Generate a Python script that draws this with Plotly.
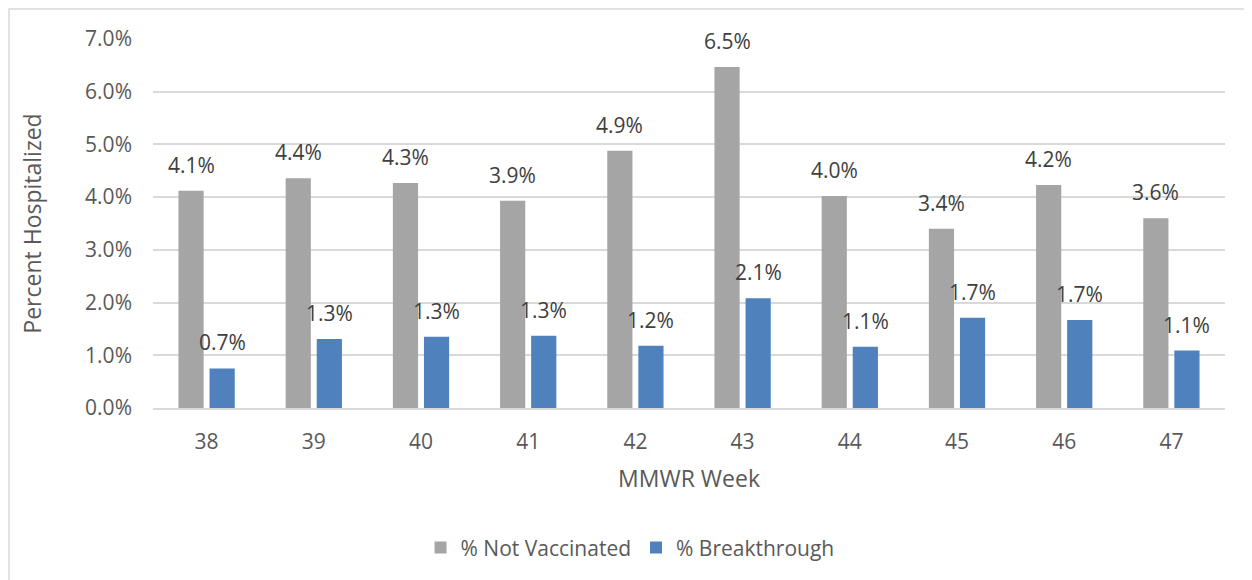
import plotly.graph_objects as go

weeks = [38, 39, 40, 41, 42, 43, 44, 45, 46, 47]
not_vaccinated = [4.12, 4.36, 4.27, 3.93, 4.88, 6.47, 4.02, 3.40, 4.23, 3.60]
breakthrough = [0.75, 1.31, 1.35, 1.37, 1.18, 2.08, 1.16, 1.71, 1.67, 1.09]
not_vacc_labels = ["4.1%", "4.4%", "4.3%", "3.9%", "4.9%", "6.5%", "4.0%", "3.4%", "4.2%", "3.6%"]
break_labels = ["0.7%", "1.3%", "1.3%", "1.3%", "1.2%", "2.1%", "1.1%", "1.7%", "1.7%", "1.1%"]

GRAY = "#A5A5A5"
BLUE = "#4F81BD"
TXT = "#595959"
FONT = "Open Sans"
FS = 21
TFS = 23

fig = go.Figure()
fig.add_trace(go.Bar(x=weeks, y=not_vaccinated, name="% Not Vaccinated",
                     marker=dict(color=GRAY, line=dict(width=0))))
fig.add_trace(go.Bar(x=weeks, y=breakthrough, name="% Breakthrough",
                     marker=dict(color=BLUE, line=dict(width=0))))

annotations = []
for w, v, t in zip(weeks, not_vaccinated, not_vacc_labels):
    annotations.append(dict(x=w, y=v, text=t, xref="x", yref="y", showarrow=False,
                            xshift=-15.5, yshift=10, yanchor="bottom",
                            font=dict(family=FONT, size=FS, color="#404040")))
for w, v, t in zip(weeks, breakthrough, break_labels):
    annotations.append(dict(x=w, y=v, text=t, xref="x", yref="y", showarrow=False,
                            xshift=15.5, yshift=10, yanchor="bottom",
                            font=dict(family=FONT, size=FS, color="#404040")))

fig.update_layout(
    width=1244, height=572,
    margin=dict(l=145, r=27, t=31, b=172, autoexpand=False),
    paper_bgcolor="white", plot_bgcolor="white",
    font=dict(family=FONT, size=FS, color=TXT),
    barmode="group", bargap=0.42, bargroupgap=0.19,
    showlegend=True,
    legend=dict(orientation="h", x=0.445, xanchor="center", y=-0.379, yanchor="middle",
                font=dict(family=FONT, size=FS, color=TXT), traceorder="normal",
                itemwidth=30, tracegroupgap=0),
    annotations=annotations,
    shapes=[dict(type="rect", xref="paper", yref="paper",
                 x0=(9 - 153) / 1072, x1=(1290 - 153) / 1072,
                 y0=(408 - 620) / 369, y1=(408 - 9) / 369,
                 line=dict(color="#D9D9D9", width=1.5), fillcolor="rgba(0,0,0,0)",
                 layer="below")],
)
fig.update_xaxes(
    type="linear", range=[37.5, 47.5], tickmode="array", tickvals=weeks,
    ticktext=[str(w) for w in weeks],
    showgrid=False, showline=True, linecolor="#D9D9D9", linewidth=1.5, zeroline=False,
    ticks="", ticklabelstandoff=14,
    tickfont=dict(family=FONT, size=FS, color=TXT),
    title=dict(text="MMWR Week", font=dict(family=FONT, size=TFS, color=TXT), standoff=17),
)
fig.update_yaxes(
    range=[0, 7], dtick=1, tick0=0, tickformat=".1f", ticksuffix="%",
    showgrid=True, gridcolor="#D9D9D9", gridwidth=1.5, zeroline=False, showline=False,
    ticks="", ticklabelstandoff=20,
    tickfont=dict(family=FONT, size=FS, color=TXT),
    title=dict(text="Percent Hospitalized", font=dict(family=FONT, size=TFS, color=TXT), standoff=37),
)

fig.write_html("out.html")
